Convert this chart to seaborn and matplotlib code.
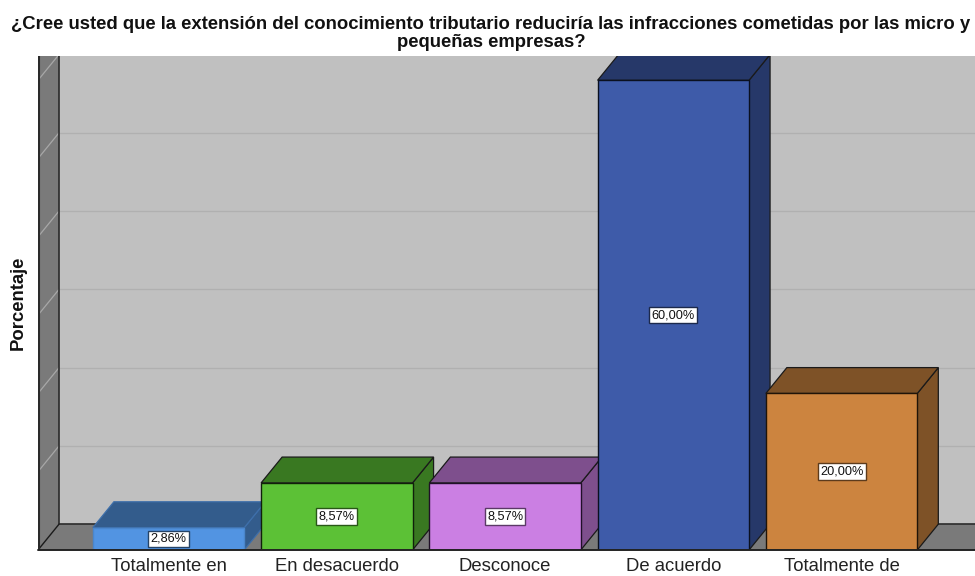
import matplotlib
matplotlib.use('Agg')
import matplotlib.pyplot as plt
import matplotlib.colors as mcolors
from matplotlib.patches import Polygon
import seaborn as sns

categories = ['Totalmente en', 'En desacuerdo', 'Desconoce', 'De acuerdo', 'Totalmente de']
values = [2.86, 8.57, 8.57, 60.00, 20.00]
value_labels = ['2,86%', '8,57%', '8,57%', '60,00%', '20,00%']
grid_values = [0, 10, 20, 30, 40, 50, 60]
title = ('¿Cree usted que la extensión del conocimiento tributario reduciría las infracciones '
         'cometidas por las micro y\npequeñas empresas?')
y_label = 'Porcentaje'

bar_colors = ['#5294E2', '#5CC136', '#CB7FE3', '#3E5BA9', '#CC843F']
edge_colors = ['#4A86CC', '#10200A', '#201028', '#0A1020', '#201408']

# depth of the fake 3d box, in data units
dx = 0.125
dy = 3.3
x_left = -0.776
x_right = 4.793
y_top = 63.1


def shade(color, f=0.62):
    r, g, b = mcolors.to_rgb(color)
    return (r * f, g * f, b * f)


sns.set_theme(style='white')
plt.rcParams['font.family'] = ['Liberation Sans', 'DejaVu Sans']

fig = plt.figure(figsize=(9.75, 5.76), dpi=100)
ax = fig.add_axes([38 / 975, 26 / 576, 937 / 975, 494 / 576])
ax.set_facecolor('#C0C0C0')

sns.barplot(x=categories, y=values, hue=categories, palette=bar_colors, width=0.9,
            dodge=False, legend=False, saturation=1, ax=ax)
ax.set_xlim(x_left, x_right)
ax.set_ylim(0, y_top)

# back wall grid, floor and left wall
ax.hlines([v + dy for v in grid_values[1:]], x_left + dx, x_right, color='#B0B0B0', lw=0.9, zorder=1)
ax.add_patch(Polygon([(x_left, 0), (x_left + dx, dy), (x_right, dy), (x_right, 0)],
                     fc='#7A7A7A', ec='none', zorder=1.2))
ax.add_patch(Polygon([(x_left, 0), (x_left + dx, dy), (x_left + dx, y_top), (x_left, y_top)],
                     fc='#7A7A7A', ec='none', zorder=1.2))
for v in grid_values[1:]:
    ax.plot([x_left, x_left + dx], [v, v + dy], color='#A8A8A8', lw=0.9, zorder=1.3)
ax.plot([x_left + dx, x_left + dx, x_right], [y_top, dy, dy], color='#2A2A2A', lw=1.2, zorder=1.4)
ax.plot([x_left, x_left + dx], [0, dy], color='#1A1A1A', lw=1, zorder=1.4)
ax.plot([x_left + 0.006, x_left + 0.006], [0, y_top], color='#2A2A2A', lw=1.5, zorder=1.4)

# top and side faces are built from the bars seaborn drew
for i, (bar, color, edge, label) in enumerate(zip(ax.patches, bar_colors, edge_colors, value_labels)):
    x0 = bar.get_x()
    x1 = x0 + bar.get_width()
    h = bar.get_height()
    z = 2 + i
    dark = shade(color)
    face_edge = shade(color, 0.75) if i == 0 else '#1A1A1A'
    ax.add_patch(Polygon([(x1, 0), (x1 + dx, dy), (x1 + dx, h + dy), (x1, h)],
                         fc=dark, ec=face_edge, lw=0.9, zorder=z))
    ax.add_patch(Polygon([(x0, h), (x0 + dx, h + dy), (x1 + dx, h + dy), (x1, h)],
                         fc=dark, ec=face_edge, lw=0.9, zorder=z))
    bar.set_edgecolor(edge)
    bar.set_linewidth(1)
    bar.set_zorder(z + 0.5)
    ax.text((x0 + x1) / 2, h / 2, label, ha='center', va='center', fontsize=9.2, color='#111111',
            zorder=z + 0.7,
            bbox=dict(boxstyle='square,pad=0.18', fc='white', ec=shade(color, 0.45), lw=1))

ax.axhline(0, color='#222222', lw=1.4, zorder=10, clip_on=False)

sns.despine(ax=ax, left=True, bottom=True)
ax.set_yticks([])
ax.set_xticks(range(len(categories)))
ax.set_xticklabels(categories, fontsize=13.3, color='#222222')
ax.tick_params(axis='x', length=0, pad=6)
ax.set_xlabel('')
ax.set_ylabel('')

fig.text(491 / 975, 1 - 16 / 576, title, ha='center', va='top', fontsize=13.3, fontweight='bold',
         color='#111111', linespacing=1.1)
fig.text(18 / 975, 1 - 303 / 576, y_label, rotation=90, ha='center', va='center', fontsize=13.3,
         fontweight='bold', color='#111111')

fig.savefig('out.png', dpi=100, facecolor='white')
